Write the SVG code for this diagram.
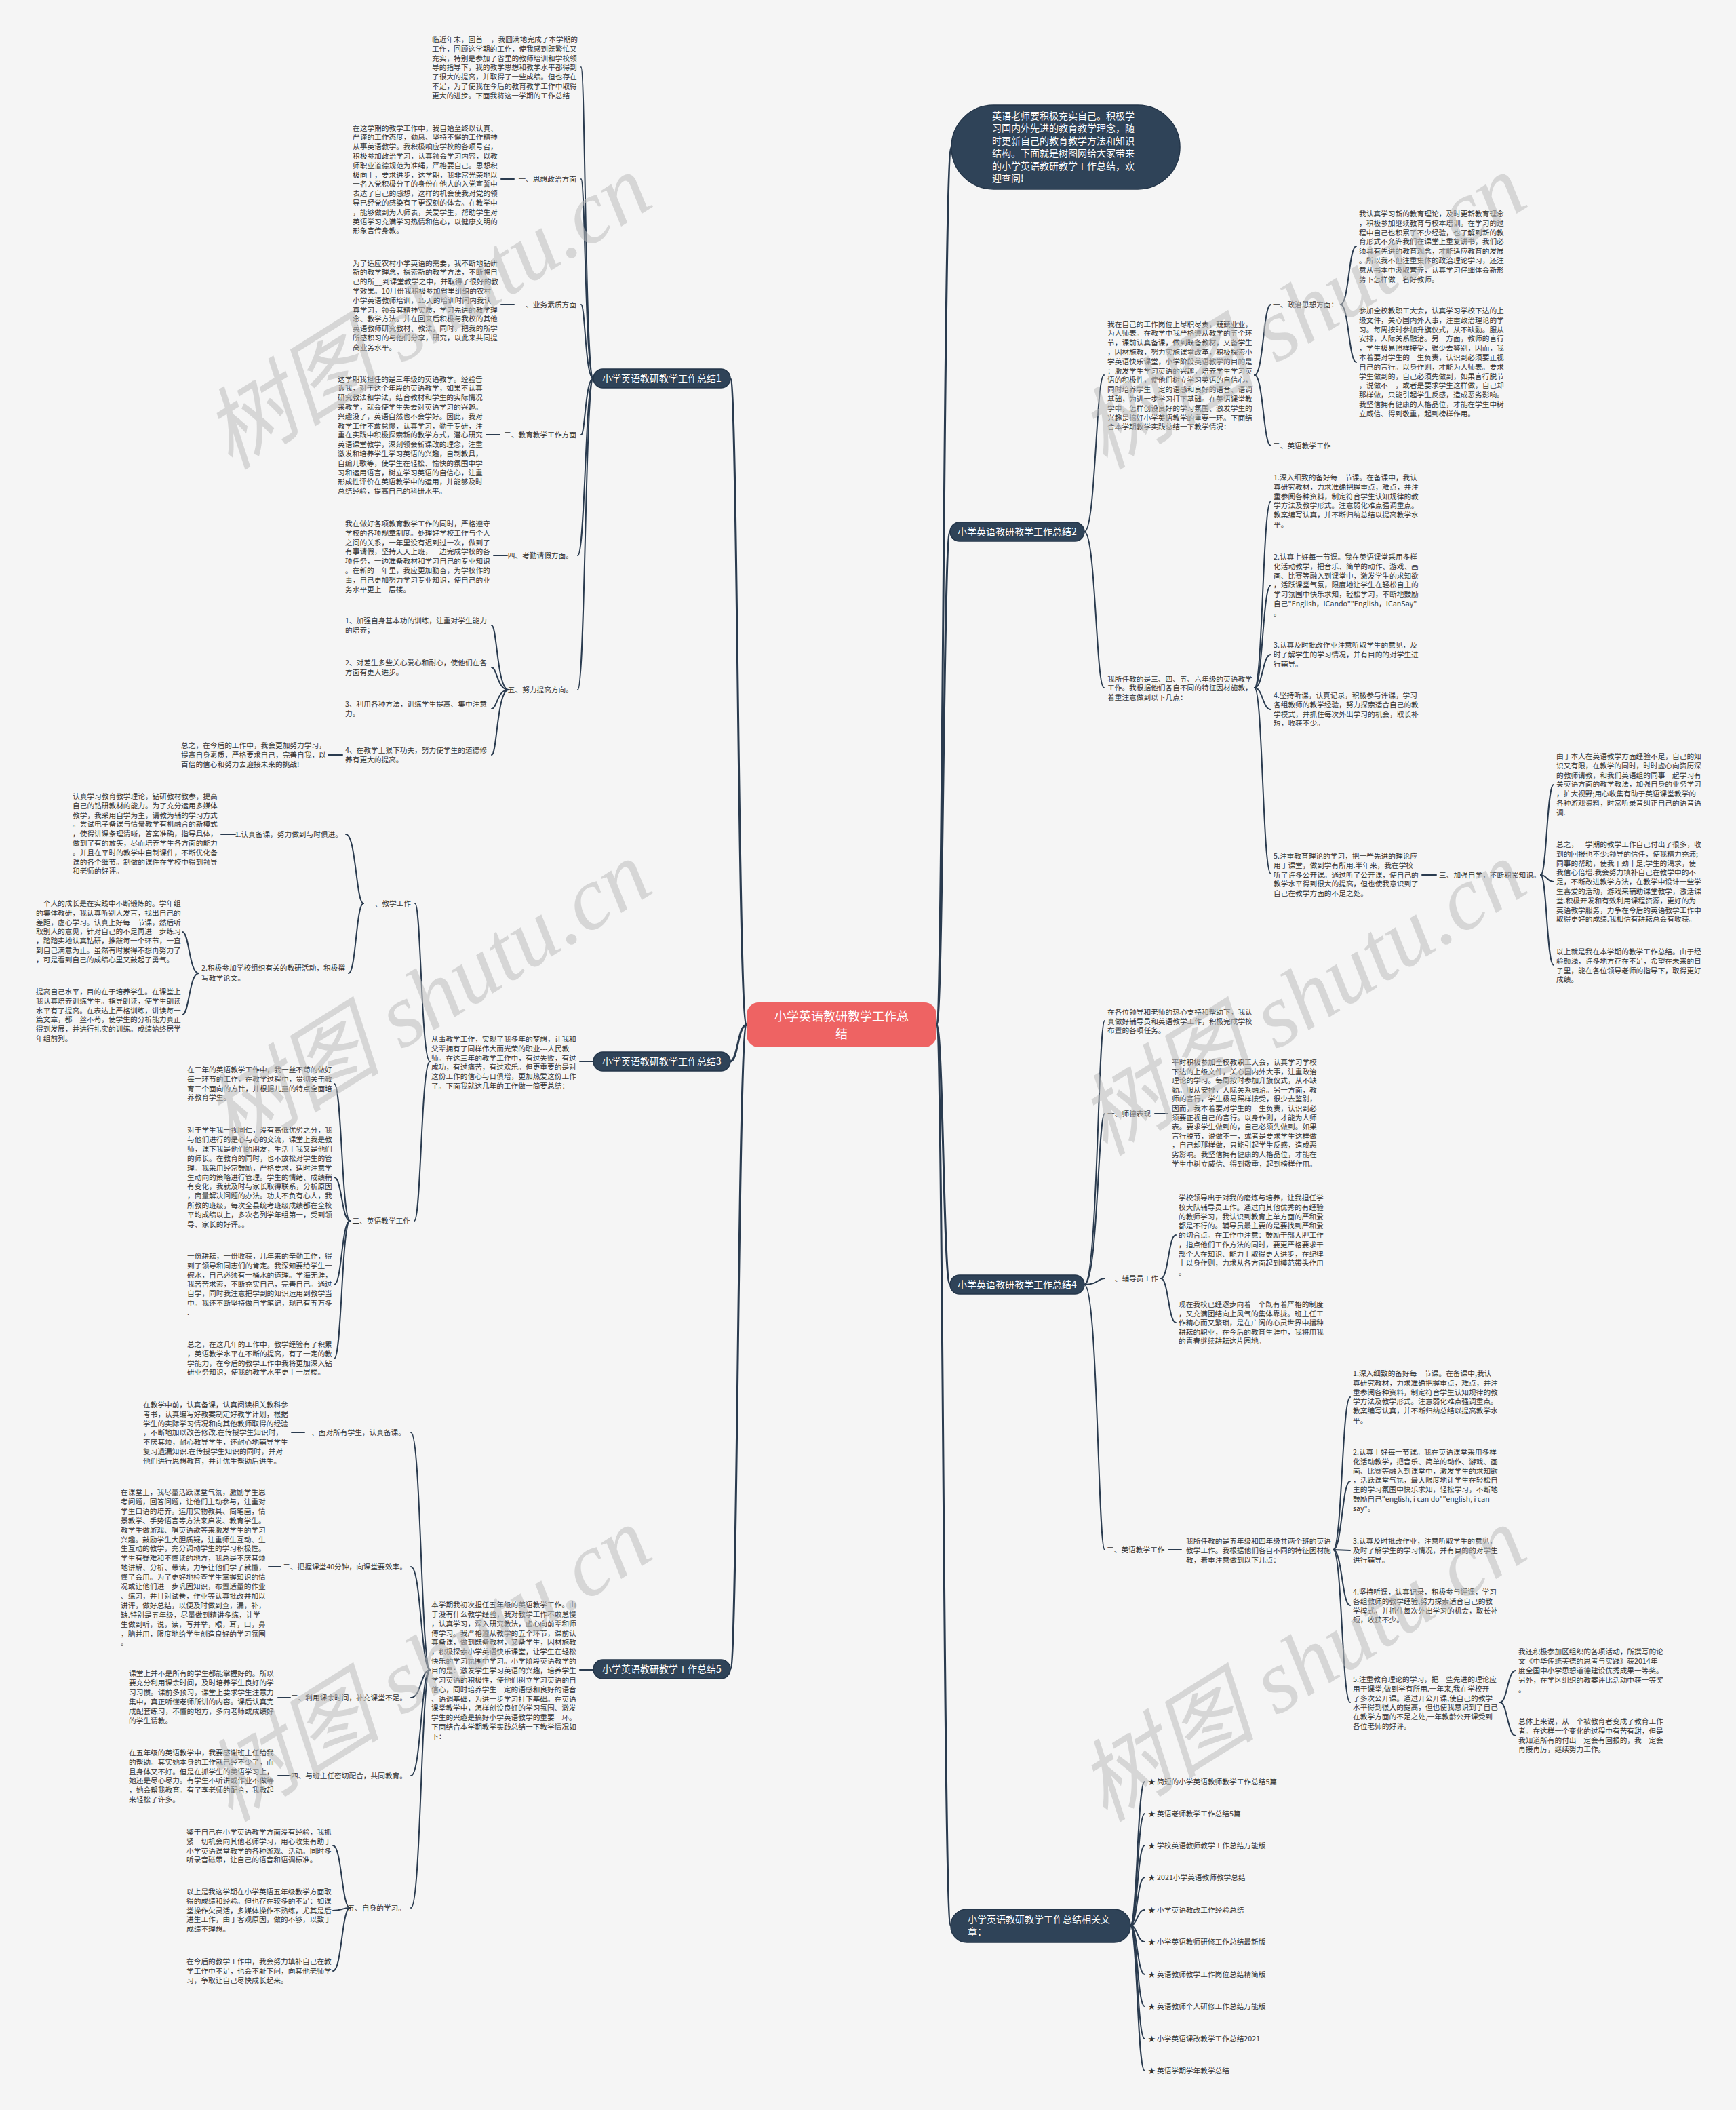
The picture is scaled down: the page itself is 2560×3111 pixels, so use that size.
<svg xmlns="http://www.w3.org/2000/svg" width="2560" height="3111" viewBox="0 0 2560 3111">
<style>
text{font-family:"Noto Sans CJK SC","Noto Sans",sans-serif}
.t{font-size:10.7px;fill:#333}
.n{font-size:14px;fill:#fff}
.c{font-size:18px;fill:#fff}
.e{text-anchor:end}
.m{text-anchor:middle}
.k{fill:none;stroke:#2a3b4f;stroke-width:2;stroke-linecap:round}
.k3{fill:none;stroke:#2a3b4f;stroke-width:3;stroke-linecap:round}
.nd{fill:#2f4358;stroke:#24364a;stroke-width:1.5}
.w{font-family:"Liberation Serif","Noto Sans CJK SC",serif;font-style:italic;font-size:132px;fill:#bdbdbd;opacity:.55}
</style>
<rect width="2560" height="3111" fill="#f5f5f5"/>
<g id="connectors">
<path class="k3" d="M1101 1511 C1088 1511 1088 558 1077 558"/>
<path class="k3" d="M1101 1511 C1088 1511 1088 1565 1077 1565"/>
<path class="k3" d="M1101 1511 C1088 1511 1088 2461 1077 2461"/>
<path class="k3" d="M1381 1511 C1391 1511 1391 217 1403 217"/>
<path class="k3" d="M1381 1511 C1391 1511 1391 784 1401 784"/>
<path class="k3" d="M1381 1511 C1391 1511 1391 1894 1401 1894"/>
<path class="k3" d="M1381 1511 C1391 1511 1391 2839 1402 2839"/>
<path class="k" d="M875 558 C863 558 863 99 857 99"/>
<path class="k" d="M875 558 C863 558 863 264 857 264"/>
<path class="k" d="M875 558 C863 558 863 449 857 449"/>
<path class="k" d="M875 558 C863 558 863 641 857 641"/>
<path class="k" d="M875 558 C863 558 863 819 852 819"/>
<path class="k" d="M875 558 C863 558 863 1017 852 1017"/>
<path class="k" d="M739 264 H758 M739 449 H758 M717 641 H737 M728 819 H748"/>
<path class="k" d="M750 1017 C733 1017 733 922 725 922"/>
<path class="k" d="M750 1017 C733 1017 733 984 725 984"/>
<path class="k" d="M750 1017 C733 1017 733 1045 725 1045"/>
<path class="k" d="M750 1017 C733 1017 733 1113 725 1113"/>
<path class="k" d="M505 1113 H484"/>
<path class="k" d="M855 1565 H875"/>
<path class="k" d="M634 1565 C621 1565 621 1332 612 1332"/>
<path class="k" d="M634 1565 C621 1565 621 1800 611 1800"/>
<path class="k" d="M536 1332 C525 1332 525 1230 510 1230"/>
<path class="k" d="M536 1332 C525 1332 525 1435 514 1435"/>
<path class="k" d="M326 1230 H347"/>
<path class="k" d="M293 1435 C279 1435 279 1374 269 1374"/>
<path class="k" d="M293 1435 C279 1435 279 1496 269 1496"/>
<path class="k" d="M516 1800 C504 1800 504 1598 493 1598"/>
<path class="k" d="M516 1800 C504 1800 504 1736 493 1736"/>
<path class="k" d="M516 1800 C504 1800 504 1894 493 1894"/>
<path class="k" d="M516 1800 C504 1800 504 2003 493 2003"/>
<path class="k" d="M855 2462 H875"/>
<path class="k" d="M634 2462 C621 2462 621 2112 606 2112"/>
<path class="k" d="M634 2462 C621 2462 621 2310 606 2310"/>
<path class="k" d="M634 2462 C621 2462 621 2503 606 2503"/>
<path class="k" d="M634 2462 C621 2462 621 2618 606 2618"/>
<path class="k" d="M634 2462 C621 2462 621 2813 606 2813"/>
<path class="k" d="M430 2112 H449 M396 2310 H414 M410 2503 H428 M410 2618 H428"/>
<path class="k" d="M516 2813 C504 2813 504 2721 491 2721"/>
<path class="k" d="M516 2813 C504 2813 504 2817 491 2817"/>
<path class="k" d="M516 2813 C504 2813 504 2906 491 2906"/>
<path class="k" d="M1599 784 C1616 784 1616 553 1628 553"/>
<path class="k" d="M1599 784 C1616 784 1616 1014 1628 1014"/>
<path class="k" d="M1850 553 C1863 553 1863 449 1874 449"/>
<path class="k" d="M1850 553 C1863 553 1863 657 1874 657"/>
<path class="k" d="M1977 449 C1989 449 1989 363 2000 363"/>
<path class="k" d="M1977 449 C1989 449 1989 534 2000 534"/>
<path class="k" d="M1850 1014 C1862 1014 1862 739 1874 739"/>
<path class="k" d="M1850 1014 C1862 1014 1862 863 1874 863"/>
<path class="k" d="M1850 1014 C1862 1014 1862 965 1874 965"/>
<path class="k" d="M1850 1014 C1862 1014 1862 1046 1874 1046"/>
<path class="k" d="M1850 1014 C1862 1014 1862 1288 1874 1288"/>
<path class="k" d="M2097 1290 H2118"/>
<path class="k" d="M2272 1290 C2281 1290 2281 1157 2291 1157"/>
<path class="k" d="M2272 1290 C2281 1290 2281 1300 2291 1300"/>
<path class="k" d="M2272 1290 C2281 1290 2281 1423 2291 1423"/>
<path class="k" d="M1599 1894 C1619 1894 1619 1505 1629 1505"/>
<path class="k" d="M1599 1894 C1619 1894 1619 1642 1629 1642"/>
<path class="k" d="M1599 1894 C1619 1894 1619 1885 1629 1885"/>
<path class="k" d="M1599 1894 C1619 1894 1619 2285 1629 2285"/>
<path class="k" d="M1703 1642 H1722 M1723 2285 H1742"/>
<path class="k" d="M1712 1885 C1723 1885 1723 1821 1734 1821"/>
<path class="k" d="M1712 1885 C1723 1885 1723 1950 1734 1950"/>
<path class="k" d="M1966 2285 C1979 2285 1979 2060 1991 2060"/>
<path class="k" d="M1966 2285 C1979 2285 1979 2184 1991 2184"/>
<path class="k" d="M1966 2285 C1979 2285 1979 2286 1991 2286"/>
<path class="k" d="M1966 2285 C1979 2285 1979 2367 1991 2367"/>
<path class="k" d="M1966 2285 C1979 2285 1979 2510 1991 2510"/>
<path class="k" d="M2212 2510 C2223 2510 2223 2463 2235 2463"/>
<path class="k" d="M2212 2510 C2223 2510 2223 2559 2235 2559"/>
<path class="k" d="M1667 2839 C1677 2839 1677 2627 1688 2627"/>
<path class="k" d="M1667 2839 C1677 2839 1677 2674 1688 2674"/>
<path class="k" d="M1667 2839 C1677 2839 1677 2721 1688 2721"/>
<path class="k" d="M1667 2839 C1677 2839 1677 2768 1688 2768"/>
<path class="k" d="M1667 2839 C1677 2839 1677 2816 1688 2816"/>
<path class="k" d="M1667 2839 C1677 2839 1677 2863 1688 2863"/>
<path class="k" d="M1667 2839 C1677 2839 1677 2911 1688 2911"/>
<path class="k" d="M1667 2839 C1677 2839 1677 2958 1688 2958"/>
<path class="k" d="M1667 2839 C1677 2839 1677 3006 1688 3006"/>
<path class="k" d="M1667 2839 C1677 2839 1677 3053 1688 3053"/>
</g>
<g id="center">
<rect x="1101" y="1478" width="280" height="66" rx="18" fill="#ee6363"/>
<text class="c m" x="1241" y="1505">小学英语教研教学工作总</text>
<text class="c m" x="1241" y="1531">结</text>
</g>
<g id="intro-bubble">
<rect class="nd" x="1403" y="155" width="337" height="124" rx="62"/>
<text class="n" x="1463" y="176"><tspan x="1463">英语老师要积极充实自己。积极学</tspan><tspan x="1463" dy="18.4">习国内外先进的教育教学理念，随</tspan><tspan x="1463" dy="18.4">时更新自己的教育教学方法和知识</tspan><tspan x="1463" dy="18.4">结构。下面就是树图网给大家带来</tspan><tspan x="1463" dy="18.4">的小学英语教研教学工作总结，欢</tspan><tspan x="1463" dy="18.4">迎查阅!</tspan></text>
</g>
<g id="node1">
<rect class="nd" x="875" y="544" width="202" height="28" rx="14"/>
<text class="n m" x="976" y="563">小学英语教研教学工作总结1</text>
<text class="t" x="637" y="62"><tspan x="637">临近年末，回首__，我圆满地完成了本学期的</tspan><tspan x="637" dy="13.8">工作，回顾这学期的工作，使我感到既繁忙又</tspan><tspan x="637" dy="13.8">充实，特别是参加了省里的教师培训和学校领</tspan><tspan x="637" dy="13.8">导的指导下，我的教学思想和教学水平都得到</tspan><tspan x="637" dy="13.8">了很大的提高，并取得了一些成绩。但也存在</tspan><tspan x="637" dy="13.8">不足，为了使我在今后的教育教学工作中取得</tspan><tspan x="637" dy="13.8">更大的进步。下面我将这一学期的工作总结</tspan></text>
<text class="t e" x="850" y="268">一、思想政治方面</text>
<text class="t" x="520" y="192.5"><tspan x="520">在这学期的教学工作中，我自始至终以认真、</tspan><tspan x="520" dy="13.8">严谨的工作态度，勤恳、坚持不懈的工作精神</tspan><tspan x="520" dy="13.8">从事英语教学。我积极响应学校的各项号召，</tspan><tspan x="520" dy="13.8">积极参加政治学习，认真领会学习内容，以教</tspan><tspan x="520" dy="13.8">师职业道德规范为准绳，严格要自己。思想积</tspan><tspan x="520" dy="13.8">极向上，要求进步，这学期，我非常光荣地以</tspan><tspan x="520" dy="13.8">一名入党积极分子的身份在他人的入党宣誓中</tspan><tspan x="520" dy="13.8">表达了自己的感想，这样的机会使我对党的领</tspan><tspan x="520" dy="13.8">导已经党的感染有了更深刻的体会。在教学中</tspan><tspan x="520" dy="13.8">，能够做到为人师表，关爱学生，帮助学生对</tspan><tspan x="520" dy="13.8">英语学习充满学习热情和信心，以健康文明的</tspan><tspan x="520" dy="13.8">形象言传身教。</tspan></text>
<text class="t e" x="850" y="453">二、业务素质方面</text>
<text class="t" x="520" y="391.5"><tspan x="520">为了适应农村小学英语的需要，我不断地钻研</tspan><tspan x="520" dy="13.8">新的教学理念，探索新的教学方法，不断将自</tspan><tspan x="520" dy="13.8">己的所__到课堂教学之中，并取得了很好的教</tspan><tspan x="520" dy="13.8">学效果。10月份我积极参加省里组织的农村</tspan><tspan x="520" dy="13.8">小学英语教师培训，15天的培训时间内我认</tspan><tspan x="520" dy="13.8">真学习，领会其精神实质，学习先进的教学理</tspan><tspan x="520" dy="13.8">念、教学方法。并在回来后积极与我校的其他</tspan><tspan x="520" dy="13.8">英语教师研究教材、教法，同时，把我的所学</tspan><tspan x="520" dy="13.8">所感积习的与他们分享，研究，以此来共同提</tspan><tspan x="520" dy="13.8">高业务水平。</tspan></text>
<text class="t e" x="850" y="645">三、教育教学工作方面</text>
<text class="t" x="498" y="562.6"><tspan x="498">这学期我担任的是三年级的英语教学。经验告</tspan><tspan x="498" dy="13.8">诉我，对于这个年段的英语教学，如果不认真</tspan><tspan x="498" dy="13.8">研究教法和学法，结合教材和学生的实际情况</tspan><tspan x="498" dy="13.8">来教学，就会使学生失去对英语学习的兴趣。</tspan><tspan x="498" dy="13.8">兴趣没了，英语自然也不会学好。因此，我对</tspan><tspan x="498" dy="13.8">教学工作不敢怠慢，认真学习，勤于专研，注</tspan><tspan x="498" dy="13.8">重在实践中积极探索新的教学方式，潜心研究</tspan><tspan x="498" dy="13.8">英语课堂教学，深刻领会新课改的理念，注重</tspan><tspan x="498" dy="13.8">激发和培养学生学习英语的兴趣，自制教具，</tspan><tspan x="498" dy="13.8">自编儿歌等，使学生在轻松、愉快的氛围中学</tspan><tspan x="498" dy="13.8">习和运用语言，树立学习英语的自信心，注重</tspan><tspan x="498" dy="13.8">形成性评价在英语教学中的运用，并能够及时</tspan><tspan x="498" dy="13.8">总结经验，提高自己的科研水平。</tspan></text>
<text class="t e" x="845" y="823">四、考勤请假方面。</text>
<text class="t" x="509" y="776"><tspan x="509">我在做好各项教育教学工作的同时，严格遵守</tspan><tspan x="509" dy="13.8">学校的各项规章制度。处理好学校工作与个人</tspan><tspan x="509" dy="13.8">之间的关系，一年里没有迟到过一次，做到了</tspan><tspan x="509" dy="13.8">有事请假，坚持天天上班，一边完成学校的各</tspan><tspan x="509" dy="13.8">项任务，一边准备教材和学习自己的专业知识</tspan><tspan x="509" dy="13.8">。在新的一年里，我应更加勤奋，为学校作的</tspan><tspan x="509" dy="13.8">事，自己更加努力学习专业知识，使自己的业</tspan><tspan x="509" dy="13.8">务水平更上一层楼。</tspan></text>
<text class="t e" x="845" y="1021">五、努力提高方向。</text>
<text class="t" x="509" y="919"><tspan x="509">1、加强自身基本功的训练，注重对学生能力</tspan><tspan x="509" dy="14">的培养；</tspan></text>
<text class="t" x="509" y="981"><tspan x="509">2、对差生多些关心爱心和耐心，使他们在各</tspan><tspan x="509" dy="14">方面有更大进步。</tspan></text>
<text class="t" x="509" y="1042"><tspan x="509">3、利用各种方法，训练学生提高、集中注意</tspan><tspan x="509" dy="14">力。</tspan></text>
<text class="t" x="509" y="1110"><tspan x="509">4、在教学上狠下功夫，努力使学生的道德修</tspan><tspan x="509" dy="14">养有更大的提高。</tspan></text>
<text class="t" x="267" y="1103"><tspan x="267">总之，在今后的工作中，我会更加努力学习，</tspan><tspan x="267" dy="14">提高自身素质，严格要求自己，完善自我，以</tspan><tspan x="267" dy="14">百倍的信心和努力去迎接未来的挑战!</tspan></text>
</g>
<g id="node3">
<rect class="nd" x="875" y="1551" width="202" height="28" rx="14"/>
<text class="n m" x="976" y="1570">小学英语教研教学工作总结3</text>
<text class="t" x="636" y="1536"><tspan x="636">从事教学工作，实现了我多年的梦想，让我和</tspan><tspan x="636" dy="13.8">父辈拥有了同样伟大而光荣的职业---人民教</tspan><tspan x="636" dy="13.8">师。在这三年的教学工作中，有过失败，有过</tspan><tspan x="636" dy="13.8">成功，有过痛苦，有过欢乐。但更重要的是对</tspan><tspan x="636" dy="13.8">这份工作的信心与日俱增，更加热爱这份工作</tspan><tspan x="636" dy="13.8">了。下面我就这几年的工作做一简要总结：</tspan></text>
<text class="t e" x="606" y="1336">一、教学工作</text>
<text class="t e" x="505" y="1234">1.认真备课，努力做到与时俱进。</text>
<text class="t" x="107" y="1178"><tspan x="107">认真学习教育教学理论，钻研教材教参，提高</tspan><tspan x="107" dy="13.8">自己的钻研教材的能力。为了充分运用多媒体</tspan><tspan x="107" dy="13.8">教学，我采用自学为主，请教为辅的学习方式</tspan><tspan x="107" dy="13.8">。尝试电子备课与情景教学有机融合的新模式</tspan><tspan x="107" dy="13.8">，使得讲课条理清晰，答案准确，指导具体，</tspan><tspan x="107" dy="13.8">做到了有的放矢，尽而培养学生各方面的能力</tspan><tspan x="107" dy="13.8">。并且在平时的教学中自制课件，不断优化备</tspan><tspan x="107" dy="13.8">课的各个细节。制做的课件在学校中得到领导</tspan><tspan x="107" dy="13.8">和老师的好评。</tspan></text>
<text class="t" x="297" y="1431"><tspan x="297">2.积极参加学校组织有关的教研活动，积极撰</tspan><tspan x="297" dy="14.5">写教学论文。</tspan></text>
<text class="t" x="53" y="1336"><tspan x="53">一个人的成长是在实践中不断锻炼的。学年组</tspan><tspan x="53" dy="13.8">的集体教研，我认真听别人发言，找出自己的</tspan><tspan x="53" dy="13.8">差距，虚心学习。认真上好每一节课，然后听</tspan><tspan x="53" dy="13.8">取别人的意见，针对自己的不足再进一步练习</tspan><tspan x="53" dy="13.8">，踏踏实地认真钻研，推敲每一个环节，一直</tspan><tspan x="53" dy="13.8">到自己满意为止。虽然有时累得不想再努力了</tspan><tspan x="53" dy="13.8">，可是看到自己的成绩心里又鼓起了勇气。</tspan></text>
<text class="t" x="53" y="1466"><tspan x="53">提高自己水平，目的在于培养学生。在课堂上</tspan><tspan x="53" dy="13.8">我认真培养训练学生。指导朗读，使学生朗读</tspan><tspan x="53" dy="13.8">水平有了提高。在表达上严格训练，讲读每一</tspan><tspan x="53" dy="13.8">篇文章，都一丝不苟，使学生的分析能力真正</tspan><tspan x="53" dy="13.8">得到发展，并进行扎实的训练。成绩始终居学</tspan><tspan x="53" dy="13.8">年组前列。</tspan></text>
<text class="t e" x="605" y="1804">二、英语教学工作</text>
<text class="t" x="276" y="1581"><tspan x="276">在三年的英语教学工作中，我一丝不苟的做好</tspan><tspan x="276" dy="13.8">每一环节的工作，在教学过程中，贯彻关于教</tspan><tspan x="276" dy="13.8">育三个面向的方针，并根据儿童的特点全面培</tspan><tspan x="276" dy="13.8">养教育学生。</tspan></text>
<text class="t" x="276" y="1670"><tspan x="276">对于学生我一视同仁，没有高低优劣之分，我</tspan><tspan x="276" dy="13.9">与他们进行的是心与心的交流，课堂上我是教</tspan><tspan x="276" dy="13.9">师，课下我是他们的朋友，生活上我又是他们</tspan><tspan x="276" dy="13.9">的师长。在教育的同时，也不放松对学生的管</tspan><tspan x="276" dy="13.9">理。我采用经常鼓励，严格要求，适时注意学</tspan><tspan x="276" dy="13.9">生动向的策略进行管理。学生的情绪、成绩稍</tspan><tspan x="276" dy="13.9">有变化，我就及时与家长取得联系，分析原因</tspan><tspan x="276" dy="13.9">，商量解决问题的办法。功夫不负有心人，我</tspan><tspan x="276" dy="13.9">所教的班级，每次全县统考班级成绩都在全校</tspan><tspan x="276" dy="13.9">平均成绩以上，多次名列学年组第一，受到领</tspan><tspan x="276" dy="13.9">导、家长的好评。。</tspan></text>
<text class="t" x="276" y="1856"><tspan x="276">一份耕耘，一份收获，几年来的辛勤工作，得</tspan><tspan x="276" dy="13.8">到了领导和同志们的肯定。我深知要给学生一</tspan><tspan x="276" dy="13.8">碗水，自己必须有一桶水的道理。学海无涯，</tspan><tspan x="276" dy="13.8">我苦苦求索，不断充实自己，完善自己。通过</tspan><tspan x="276" dy="13.8">自学，同时我注意把学到的知识运用到教学当</tspan><tspan x="276" dy="13.8">中。我还不断坚持做自学笔记，现已有五万多</tspan><tspan x="276" dy="13.8">.</tspan></text>
<text class="t" x="276" y="1986"><tspan x="276">总之，在这几年的工作中，教学经验有了积累</tspan><tspan x="276" dy="13.8">，英语教学水平在不断的提高，有了一定的教</tspan><tspan x="276" dy="13.8">学能力，在今后的教学工作中我将更加深入钻</tspan><tspan x="276" dy="13.8">研业务知识，使我的教学水平更上一层楼。</tspan></text>
</g>
<g id="node5">
<rect class="nd" x="875" y="2447" width="202" height="28" rx="14"/>
<text class="n m" x="976" y="2466">小学英语教研教学工作总结5</text>
<text class="t" x="636" y="2370"><tspan x="636">本学期我初次担任五年级的英语教学工作。由</tspan><tspan x="636" dy="13.85">于没有什么教学经验，我对教学工作不敢怠慢</tspan><tspan x="636" dy="13.85">，认真学习，深入研究教法，虚心向前辈和师</tspan><tspan x="636" dy="13.85">傅学习。我严格遵从教学的五个环节，课前认</tspan><tspan x="636" dy="13.85">真备课，做到既备教材，又备学生，因材施教</tspan><tspan x="636" dy="13.85">，积极探索小学英语快乐课堂，让学生在轻松</tspan><tspan x="636" dy="13.85">快乐的学习氛围中学习。小学阶段英语教学的</tspan><tspan x="636" dy="13.85">目的是：激发学生学习英语的兴趣，培养学生</tspan><tspan x="636" dy="13.85">学习英语的积极性，使他们树立学习英语的自</tspan><tspan x="636" dy="13.85">信心，同时培养学生一定的语感和良好的语音</tspan><tspan x="636" dy="13.85">、语调基础，为进一步学习打下基础。在英语</tspan><tspan x="636" dy="13.85">课堂教学中，怎样创设良好的学习氛围、激发</tspan><tspan x="636" dy="13.85">学生的兴趣是搞好小学英语教学的重要一环。</tspan><tspan x="636" dy="13.85">下面结合本学期教学实践总结一下教学情况如</tspan><tspan x="636" dy="13.85">下：</tspan></text>
<text class="t e" x="598" y="2116">一、面对所有学生，认真备课。</text>
<text class="t" x="211" y="2075"><tspan x="211">在教学中前，认真备课，认真阅读相关教科参</tspan><tspan x="211" dy="13.8">考书，认真编写好教案制定好教学计划，根据</tspan><tspan x="211" dy="13.8">学生的实际学习情况和向其他教师取得的经验</tspan><tspan x="211" dy="13.8">，不断地加以改善修改.在传授学生知识时，</tspan><tspan x="211" dy="13.8">不厌其烦，耐心教导学生，还耐心地辅导学生</tspan><tspan x="211" dy="13.8">复习遗漏知识.在传授学生知识的同时，并对</tspan><tspan x="211" dy="13.8">他们进行思想教育，并让优生帮助后进生。</tspan></text>
<text class="t e" x="600" y="2314">二、把握课堂40分钟，向课堂要效率。</text>
<text class="t" x="178" y="2204"><tspan x="178">在课堂上，我尽量活跃课堂气氛，激励学生思</tspan><tspan x="178" dy="13.9">考问题，回答问题，让他们主动参与，注重对</tspan><tspan x="178" dy="13.9">学生口语的培养。运用实物教具、简笔画，情</tspan><tspan x="178" dy="13.9">景教学、手势语言等方法来启发、教育学生。</tspan><tspan x="178" dy="13.9">教学生做游戏、唱英语歌等来激发学生的学习</tspan><tspan x="178" dy="13.9">兴趣。鼓励学生大胆质疑，注重师生互动、生</tspan><tspan x="178" dy="13.9">生互动的教学，充分调动学生的学习积极性。</tspan><tspan x="178" dy="13.9">学生有疑难和不懂读的地方，我总是不厌其烦</tspan><tspan x="178" dy="13.9">地讲解、分析、带读，力争让他们学了就懂，</tspan><tspan x="178" dy="13.9">懂了会用。为了更好地检查学生掌握知识的情</tspan><tspan x="178" dy="13.9">况或让他们进一步巩固知识，布置适量的作业</tspan><tspan x="178" dy="13.9">、练习，并且对试卷，作业等认真批改并加以</tspan><tspan x="178" dy="13.9">讲评，做好总结，以便及时做到查，漏，补，</tspan><tspan x="178" dy="13.9">缺.特别是五年级，尽量做到精讲多练，让学</tspan><tspan x="178" dy="13.9">生做到听，说，读，写并举，眼，耳，口，鼻</tspan><tspan x="178" dy="13.9">，脑并用，限度地给学生创造良好的学习氛围</tspan><tspan x="178" dy="13.9">。</tspan></text>
<text class="t e" x="600" y="2507">三、利用课余时间，补充课堂不足。</text>
<text class="t" x="190" y="2471"><tspan x="190">课堂上并不是所有的学生都能掌握好的。所以</tspan><tspan x="190" dy="14">要充分利用课余时间，及时培养学生良好的学</tspan><tspan x="190" dy="14">习习惯。课前多预习，课堂上要求学生注意力</tspan><tspan x="190" dy="14">集中，真正听懂老师所讲的内容。课后认真完</tspan><tspan x="190" dy="14">成配套练习，不懂的地方，多向老师或成绩好</tspan><tspan x="190" dy="14">的学生请教。</tspan></text>
<text class="t e" x="600" y="2622">四、与班主任密切配合，共同教育。</text>
<text class="t" x="190" y="2588"><tspan x="190">在五年级的英语教学中，我要感谢班主任给我</tspan><tspan x="190" dy="13.8">的帮助。其实她本身的工作就已经不少了，而</tspan><tspan x="190" dy="13.8">且身体又不好。但是在抓学生的英语学习上，</tspan><tspan x="190" dy="13.8">她还是尽心尽力。有学生不听讲或作业不做等</tspan><tspan x="190" dy="13.8">，她会帮我教育。有了李老师的配合，我教起</tspan><tspan x="190" dy="13.8">来轻松了许多。</tspan></text>
<text class="t e" x="598" y="2817">五、自身的学习。</text>
<text class="t" x="275" y="2705"><tspan x="275">鉴于自己在小学英语教学方面没有经验，我抓</tspan><tspan x="275" dy="13.8">紧一切机会向其他老师学习，用心收集有助于</tspan><tspan x="275" dy="13.8">小学英语课堂教学的各种游戏、活动。同时多</tspan><tspan x="275" dy="13.8">听录音磁带，让自己的语音和语调标准。</tspan></text>
<text class="t" x="275" y="2793"><tspan x="275">以上是我这学期在小学英语五年级教学方面取</tspan><tspan x="275" dy="13.8">得的成绩和经验。但也存在较多的不足：如课</tspan><tspan x="275" dy="13.8">堂操作欠灵活，多媒体操作不熟练，尤其是后</tspan><tspan x="275" dy="13.8">进生工作，由于客观原因，做的不够，以致于</tspan><tspan x="275" dy="13.8">成绩不理想。</tspan></text>
<text class="t" x="275" y="2896"><tspan x="275">在今后的教学工作中，我会努力填补自己在教</tspan><tspan x="275" dy="13.8">学工作中不足，也会不耻下问，向其他老师学</tspan><tspan x="275" dy="13.8">习，争取让自己尽快成长起来。</tspan></text>
</g>
<g id="node2">
<rect class="nd" x="1401" y="770" width="198" height="28" rx="14"/>
<text class="n m" x="1500" y="789">小学英语教研教学工作总结2</text>
<text class="t" x="1633" y="481.5"><tspan x="1633">我在自己的工作岗位上尽职尽责，兢兢业业，</tspan><tspan x="1633" dy="13.8">为人师表。在教学中我严格遵从教学的五个环</tspan><tspan x="1633" dy="13.8">节，课前认真备课，做到既备教材，又备学生</tspan><tspan x="1633" dy="13.8">，因材施教，努力实施课堂改革，积极探索小</tspan><tspan x="1633" dy="13.8">学英语快乐课堂，小学阶段英语教学的目的是</tspan><tspan x="1633" dy="13.8">：激发学生学习英语的兴趣，培养学生学习英</tspan><tspan x="1633" dy="13.8">语的积极性，使他们树立学习英语的自信心，</tspan><tspan x="1633" dy="13.8">同时培养学生一定的语感和良好的语音、语调</tspan><tspan x="1633" dy="13.8">基础，为进一步学习打下基础。在英语课堂教</tspan><tspan x="1633" dy="13.8">学中，怎样创设良好的学习氛围、激发学生的</tspan><tspan x="1633" dy="13.8">兴趣是搞好小学英语教学的重要一环。下面结</tspan><tspan x="1633" dy="13.8">合本学期教学实践总结一下教学情况：</tspan></text>
<text class="t" x="1877" y="453">一、政治思想方面：</text>
<text class="t" x="2004" y="319"><tspan x="2004">我认真学习新的教育理论，及时更新教育理念</tspan><tspan x="2004" dy="13.8">，积极参加继续教育与校本培训。在学习的过</tspan><tspan x="2004" dy="13.8">程中自己也积累了不少经验，也了解到新的教</tspan><tspan x="2004" dy="13.8">育形式不允许我们在课堂上重复讲书，我们必</tspan><tspan x="2004" dy="13.8">须具有先进的教育观念，才能适应教育的发展</tspan><tspan x="2004" dy="13.8">。所以我不但注重集体的政治理论学习，还注</tspan><tspan x="2004" dy="13.8">意从书本中汲取营养，认真学习仔细体会新形</tspan><tspan x="2004" dy="13.8">势下怎样做一名好教师。</tspan></text>
<text class="t" x="2004" y="462"><tspan x="2004">参加全校教职工大会，认真学习学校下达的上</tspan><tspan x="2004" dy="13.8">级文件，关心国内外大事，注重政治理论的学</tspan><tspan x="2004" dy="13.8">习。每周按时参加升旗仪式，从不缺勤。服从</tspan><tspan x="2004" dy="13.8">安排，人际关系融洽。另一方面，教师的言行</tspan><tspan x="2004" dy="13.8">，学生极易照样接受，很少去鉴别，因而，我</tspan><tspan x="2004" dy="13.8">本着要对学生的一生负责，认识到必须要正视</tspan><tspan x="2004" dy="13.8">自己的言行。以身作则，才能为人师表。要求</tspan><tspan x="2004" dy="13.8">学生做到的，自己必须先做到，如果言行脱节</tspan><tspan x="2004" dy="13.8">，说做不一，或者是要求学生这样做，自己却</tspan><tspan x="2004" dy="13.8">那样做，只能引起学生反感，造成恶劣影响。</tspan><tspan x="2004" dy="13.8">我坚信拥有健康的人格品位，才能在学生中树</tspan><tspan x="2004" dy="13.8">立威信、得到敬重，起到榜样作用。</tspan></text>
<text class="t" x="1877" y="661">二、英语教学工作</text>
<text class="t" x="1633" y="1004.5"><tspan x="1633">我所任教的是三、四、五、六年级的英语教学</tspan><tspan x="1633" dy="13.8">工作。我根据他们各自不同的特征因材施教，</tspan><tspan x="1633" dy="13.8">着重注意做到以下几点：</tspan></text>
<text class="t" x="1878" y="708"><tspan x="1878">1.深入细致的备好每一节课。在备课中，我认</tspan><tspan x="1878" dy="13.8">真研究教材，力求准确把握重点，难点，并注</tspan><tspan x="1878" dy="13.8">重参阅各种资料，制定符合学生认知规律的教</tspan><tspan x="1878" dy="13.8">学方法及教学形式。注意弱化难点强调重点。</tspan><tspan x="1878" dy="13.8">教案编写认真，并不断归纳总结以提高教学水</tspan><tspan x="1878" dy="13.8">平。</tspan></text>
<text class="t" x="1878" y="825"><tspan x="1878">2.认真上好每一节课。我在英语课堂采用多样</tspan><tspan x="1878" dy="13.8">化活动教学，把音乐、简单的动作、游戏、画</tspan><tspan x="1878" dy="13.8">画、比赛等融入到课堂中，激发学生的求知欲</tspan><tspan x="1878" dy="13.8">，活跃课堂气氛，限度地让学生在轻松自主的</tspan><tspan x="1878" dy="13.8">学习氛围中快乐求知，轻松学习，不断地鼓励</tspan><tspan x="1878" dy="13.8">自己"English，ICando""English，ICanSay"</tspan><tspan x="1878" dy="13.8">。</tspan></text>
<text class="t" x="1878" y="955"><tspan x="1878">3.认真及时批改作业注意听取学生的意见，及</tspan><tspan x="1878" dy="13.8">时了解学生的学习情况，并有目的的对学生进</tspan><tspan x="1878" dy="13.8">行辅导。</tspan></text>
<text class="t" x="1878" y="1029"><tspan x="1878">4.坚持听课，认真记录，积极参与评课，学习</tspan><tspan x="1878" dy="13.8">各组教师的教学经验，努力探索适合自己的教</tspan><tspan x="1878" dy="13.8">学模式，并抓住每次外出学习的机会，取长补</tspan><tspan x="1878" dy="13.8">短，收获不少。</tspan></text>
<text class="t" x="1878" y="1266"><tspan x="1878">5.注重教育理论的学习，把一些先进的理论应</tspan><tspan x="1878" dy="13.8">用于课堂，做到学有所用.半年来，我在学校</tspan><tspan x="1878" dy="13.8">听了许多公开课。通过听了公开课，使自己的</tspan><tspan x="1878" dy="13.8">教学水平得到很大的提高，但也使我意识到了</tspan><tspan x="1878" dy="13.8">自己在教学方面的不足之处。</tspan></text>
<text class="t" x="2122" y="1294">三、加强自学，不断积累知识。</text>
<text class="t" x="2295" y="1119"><tspan x="2295">由于本人在英语教学方面经验不足，自己的知</tspan><tspan x="2295" dy="13.8">识又有限，在教学的同时，时时虚心向资历深</tspan><tspan x="2295" dy="13.8">的教师请教，和我们英语组的同事一起学习有</tspan><tspan x="2295" dy="13.8">关英语方面的教学教法，加强自身的业务学习</tspan><tspan x="2295" dy="13.8">，扩大视野;用心收集有助于英语课堂教学的</tspan><tspan x="2295" dy="13.8">各种游戏资料，时常听录音纠正自己的语音语</tspan><tspan x="2295" dy="13.8">调.</tspan></text>
<text class="t" x="2295" y="1249"><tspan x="2295">总之，一学期的教学工作自己付出了很多，收</tspan><tspan x="2295" dy="13.8">到的回报也不少:领导的信任，使我精力充沛;</tspan><tspan x="2295" dy="13.8">同事的帮助，使我干劲十足;学生的渴求，使</tspan><tspan x="2295" dy="13.8">我信心倍增.我会努力填补自己在教学中的不</tspan><tspan x="2295" dy="13.8">足，不断改进教学方法，在教学中设计一些学</tspan><tspan x="2295" dy="13.8">生喜爱的活动，游戏来辅助课堂教学，激活课</tspan><tspan x="2295" dy="13.8">堂.积极开发和有效利用课程资源，更好的为</tspan><tspan x="2295" dy="13.8">英语教学服务，力争在今后的英语教学工作中</tspan><tspan x="2295" dy="13.8">取得更好的成绩.我相信有耕耘总会有收获。</tspan></text>
<text class="t" x="2295" y="1407"><tspan x="2295">以上就是我在本学期的教学工作总结。由于经</tspan><tspan x="2295" dy="13.8">验颇浅，许多地方存在不足，希望在未来的日</tspan><tspan x="2295" dy="13.8">子里，能在各位领导老师的指导下，取得更好</tspan><tspan x="2295" dy="13.8">成绩。</tspan></text>
</g>
<g id="node4">
<rect class="nd" x="1401" y="1880" width="198" height="28" rx="14"/>
<text class="n m" x="1500" y="1899">小学英语教研教学工作总结4</text>
<text class="t" x="1633" y="1496"><tspan x="1633">在各位领导和老师的热心支持和帮助下，我认</tspan><tspan x="1633" dy="13.6">真做好辅导员和英语教学工作，积极完成学校</tspan><tspan x="1633" dy="13.6">布置的各项任务。</tspan></text>
<text class="t" x="1633" y="1646">一、师德表现</text>
<text class="t" x="1728" y="1570"><tspan x="1728">平时积极参加全校教职工大会，认真学习学校</tspan><tspan x="1728" dy="13.6">下达的上级文件，关心国内外大事，注重政治</tspan><tspan x="1728" dy="13.6">理论的学习。每周按时参加升旗仪式，从不缺</tspan><tspan x="1728" dy="13.6">勤。服从安排，人际关系融洽。另一方面，教</tspan><tspan x="1728" dy="13.6">师的言行，学生极易照样接受，很少去鉴别，</tspan><tspan x="1728" dy="13.6">因而，我本着要对学生的一生负责，认识到必</tspan><tspan x="1728" dy="13.6">须要正视自己的言行。以身作则，才能为人师</tspan><tspan x="1728" dy="13.6">表。要求学生做到的，自己必须先做到。如果</tspan><tspan x="1728" dy="13.6">言行脱节，说做不一，或者是要求学生这样做</tspan><tspan x="1728" dy="13.6">，自己却那样做，只能引起学生反感，造成恶</tspan><tspan x="1728" dy="13.6">劣影响。我坚信拥有健康的人格品位，才能在</tspan><tspan x="1728" dy="13.6">学生中树立威信、得到敬重，起到榜样作用。</tspan></text>
<text class="t" x="1633" y="1889">二、辅导员工作</text>
<text class="t" x="1738" y="1770"><tspan x="1738">学校领导出于对我的磨炼与培养，让我担任学</tspan><tspan x="1738" dy="13.75">校大队辅导员工作。通过向其他优秀的有经验</tspan><tspan x="1738" dy="13.75">的教师学习，我认识到教育上单方面的严和爱</tspan><tspan x="1738" dy="13.75">都是不行的。辅导员最主要的是要找到严和爱</tspan><tspan x="1738" dy="13.75">的切合点。在工作中注意：鼓励干部大胆工作</tspan><tspan x="1738" dy="13.75">，指点他们工作方法的同时，要更严格要求干</tspan><tspan x="1738" dy="13.75">部个人在知识、能力上取得更大进步，在纪律</tspan><tspan x="1738" dy="13.75">上以身作则，力求从各方面起到模范带头作用</tspan><tspan x="1738" dy="13.75">。</tspan></text>
<text class="t" x="1738" y="1927"><tspan x="1738">现在我校已经逐步向着一个既有着严格的制度</tspan><tspan x="1738" dy="13.6">，又充满团结向上风气的集体靠拢。班主任工</tspan><tspan x="1738" dy="13.6">作精心而又繁琐，是在广阔的心灵世界中播种</tspan><tspan x="1738" dy="13.6">耕耘的职业，在今后的教育生涯中，我将用我</tspan><tspan x="1738" dy="13.6">的青春继续耕耘这片园地。</tspan></text>
<text class="t" x="1632" y="2289">三、英语教学工作</text>
<text class="t" x="1749" y="2276"><tspan x="1749">我所任教的是五年级和四年级共两个班的英语</tspan><tspan x="1749" dy="13.8">教学工作。我根据他们各自不同的特征因材施</tspan><tspan x="1749" dy="13.8">教，着重注意做到以下几点：</tspan></text>
<text class="t" x="1995" y="2029"><tspan x="1995">1.深入细致的备好每一节课。在备课中,我认</tspan><tspan x="1995" dy="13.8">真研究教材，力求准确把握重点，难点，并注</tspan><tspan x="1995" dy="13.8">重参阅各种资料，制定符合学生认知规律的教</tspan><tspan x="1995" dy="13.8">学方法及教学形式。注意弱化难点强调重点。</tspan><tspan x="1995" dy="13.8">教案编写认真，并不断归纳总结以提高教学水</tspan><tspan x="1995" dy="13.8">平。</tspan></text>
<text class="t" x="1995" y="2145"><tspan x="1995">2.认真上好每一节课。我在英语课堂采用多样</tspan><tspan x="1995" dy="13.8">化活动教学，把音乐、简单的动作、游戏、画</tspan><tspan x="1995" dy="13.8">画、比赛等融入到课堂中，激发学生的求知欲</tspan><tspan x="1995" dy="13.8">，活跃课堂气氛，最大限度地让学生在轻松自</tspan><tspan x="1995" dy="13.8">主的学习氛围中快乐求知，轻松学习，不断地</tspan><tspan x="1995" dy="13.8">鼓励自己"english, i can do""english, i can</tspan><tspan x="1995" dy="13.8">say"。</tspan></text>
<text class="t" x="1995" y="2276"><tspan x="1995">3.认真及时批改作业，注意听取学生的意见，</tspan><tspan x="1995" dy="13.8">及时了解学生的学习情况，并有目的的对学生</tspan><tspan x="1995" dy="13.8">进行辅导。</tspan></text>
<text class="t" x="1995" y="2351"><tspan x="1995">4.坚持听课，认真记录，积极参与评课，学习</tspan><tspan x="1995" dy="13.8">各组教师的教学经验,努力探索适合自己的教</tspan><tspan x="1995" dy="13.8">学模式，并抓住每次外出学习的机会，取长补</tspan><tspan x="1995" dy="13.8">短，收获不少。</tspan></text>
<text class="t" x="1995" y="2480"><tspan x="1995">5.注重教育理论的学习，把一些先进的理论应</tspan><tspan x="1995" dy="13.8">用于课堂,做到学有所用.一年来,我在学校开</tspan><tspan x="1995" dy="13.8">了多次公开课。通过开公开课,使自己的教学</tspan><tspan x="1995" dy="13.8">水平得到很大的提高，但也使我意识到了自己</tspan><tspan x="1995" dy="13.8">在教学方面的不足之处,一年教龄公开课受到</tspan><tspan x="1995" dy="13.8">各位老师的好评。</tspan></text>
<text class="t" x="2239" y="2439"><tspan x="2239">我还积极参加区组织的各项活动，所撰写的论</tspan><tspan x="2239" dy="13.9">文《中华传统美德的思考与实践》获2014年</tspan><tspan x="2239" dy="13.9">度全国中小学思想道德建设优秀成果一等奖。</tspan><tspan x="2239" dy="13.9">另外，在学区组织的教案评比活动中获一等奖</tspan><tspan x="2239" dy="13.9">。</tspan></text>
<text class="t" x="2239" y="2542"><tspan x="2239">总体上来说，从一个被教育者变成了教育工作</tspan><tspan x="2239" dy="13.8">者。在这样一个变化的过程中有苦有甜，但是</tspan><tspan x="2239" dy="13.8">我知道所有的付出一定会有回报的，我一定会</tspan><tspan x="2239" dy="13.8">再接再厉，继续努力工作。</tspan></text>
</g>
<g id="related">
<rect class="nd" x="1402" y="2815" width="265" height="49" rx="24"/>
<text class="n" x="1427" y="2835"><tspan x="1427">小学英语教研教学工作总结相关文</tspan><tspan x="1427" dy="18">章：</tspan></text>
<text class="t" x="1693" y="2631">★ 简短的小学英语教师教学工作总结5篇</text>
<text class="t" x="1693" y="2678">★ 英语老师教学工作总结5篇</text>
<text class="t" x="1693" y="2725">★ 学校英语教师教学工作总结万能版</text>
<text class="t" x="1693" y="2772">★ 2021小学英语教师教学总结</text>
<text class="t" x="1693" y="2820">★ 小学英语教改工作经验总结</text>
<text class="t" x="1693" y="2867">★ 小学英语教师研修工作总结最新版</text>
<text class="t" x="1693" y="2915">★ 英语教师教学工作岗位总结精简版</text>
<text class="t" x="1693" y="2962">★ 英语教师个人研修工作总结万能版</text>
<text class="t" x="1693" y="3010">★ 小学英语课改教学工作总结2021</text>
<text class="t" x="1693" y="3057">★ 英语学期学年教学总结</text>
</g>
<g id="watermarks">
<text class="w" transform="translate(340 694) rotate(-32)">树图 shutu.cn</text>
<text class="w" transform="translate(340 1706) rotate(-32)">树图 shutu.cn</text>
<text class="w" transform="translate(340 2688) rotate(-32)">树图 shutu.cn</text>
<text class="w" transform="translate(1630 694) rotate(-32)">树图 shutu.cn</text>
<text class="w" transform="translate(1630 1706) rotate(-32)">树图 shutu.cn</text>
<text class="w" transform="translate(1630 2688) rotate(-32)">树图 shutu.cn</text>
</g>
</svg>
